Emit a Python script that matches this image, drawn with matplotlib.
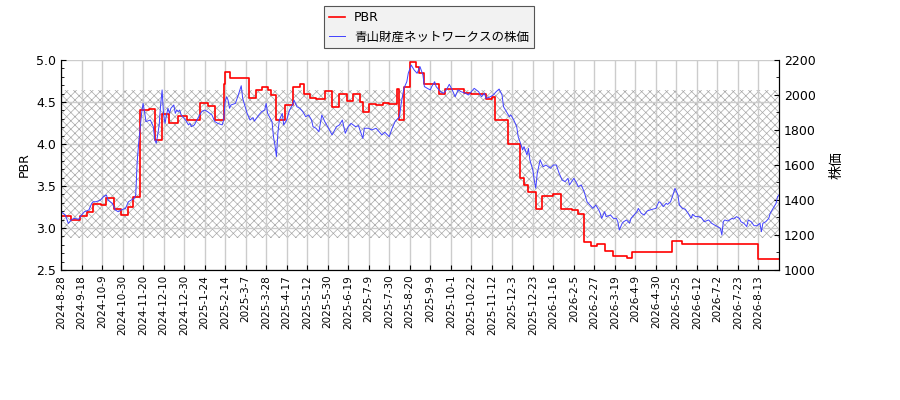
import matplotlib
matplotlib.use('Agg')
import matplotlib.pyplot as plt
from matplotlib.ticker import MultipleLocator

plt.rcParams['font.family'] = ['DejaVu Sans', 'Noto Sans CJK JP']
plt.rcParams['hatch.linewidth'] = 0.5

# trading-day index -> share price (yen)
price_day = [0, 3, 5, 7, 9, 12, 14, 16, 19, 21, 22, 24, 27, 29, 31, 32, 35, 37, 39, 41,
             44, 46, 48, 50, 51, 52, 53, 54, 55, 56, 57, 58, 61, 63, 64, 65, 66, 67, 68, 69,
             70, 71, 72, 73, 74, 75, 77, 78, 79, 80, 81, 82, 85, 87, 88, 89, 91, 94, 96, 98,
             100, 103, 105, 107, 110, 111, 112, 113, 114, 115, 116, 119, 121, 123, 124, 127, 129, 131, 132, 135,
             137, 139, 140, 141, 144, 145, 146, 147, 148, 149, 151, 152, 154, 156, 158, 159, 161, 163, 165, 167,
             169, 171, 172, 174, 176, 178, 180, 182, 185, 188, 190, 192, 194, 196, 198, 201, 203, 206, 207, 210,
             212, 215, 219, 221, 224, 226, 228, 231, 232, 234, 236, 237, 239, 241, 243, 245, 247, 248, 250, 252,
             253, 255, 256, 259, 261, 263, 265, 267, 269, 271, 273, 276, 278, 280, 282, 285, 287, 289, 290, 293,
             295, 297, 299, 301, 302, 304, 306, 307, 309, 311, 312, 314, 315, 316, 318, 319, 320, 322, 323, 324,
             325, 326, 327, 329, 331, 334, 336, 338, 340, 342, 344, 346, 347, 350, 352, 353, 355, 357, 359, 361,
             363, 365, 367, 368, 369, 371, 372, 375, 377, 379, 380, 381, 383, 384, 386, 388, 389, 391, 393, 394,
             396, 398, 400, 402, 404, 406, 408, 409, 411, 413, 414, 416, 418, 419, 420, 421, 422, 424, 426, 428,
             430, 431, 433, 435, 437, 439, 442, 444, 446, 448, 450, 451, 452, 453, 455, 458, 459, 461, 463, 464,
             466, 468, 469, 471, 473, 475, 477, 478, 479, 481, 483, 484, 486, 488, 489, 490]
price = [1333, 1314, 1266, 1286, 1295, 1290, 1314, 1333, 1343, 1381, 1390, 1390, 1400, 1419, 1429, 1400, 1381, 1343, 1333, 1343,
         1352, 1390, 1400, 1410, 1429, 1619, 1724, 1810, 1895, 1952, 1905, 1848, 1857, 1819, 1743, 1724, 1772, 1829, 1943, 2029,
         1886, 1838, 1886, 1924, 1895, 1924, 1943, 1895, 1914, 1905, 1914, 1886, 1857, 1829, 1838, 1819, 1829, 1876, 1905, 1914,
         1905, 1886, 1848, 1838, 1829, 1857, 1962, 1990, 1971, 1924, 1943, 1952, 2000, 2053, 1981, 1895, 1857, 1871, 1851, 1886,
         1905, 1914, 1952, 1895, 1848, 1762, 1714, 1648, 1781, 1857, 1895, 1829, 1857, 1914, 1943, 1971, 1933, 1924, 1905, 1876,
         1886, 1857, 1819, 1810, 1790, 1886, 1848, 1819, 1772, 1819, 1829, 1857, 1781, 1819, 1838, 1819, 1825, 1752, 1810, 1810,
         1800, 1810, 1772, 1787, 1762, 1810, 1848, 1876, 1943, 2038, 2076, 2124, 2171, 2143, 2124, 2162, 2114, 2048, 2038, 2029,
         2048, 2076, 2048, 2019, 2010, 2029, 2061, 2029, 1990, 2029, 2019, 2010, 2000, 2019, 2038, 2019, 1990, 2010, 1981, 1990,
         2000, 2019, 2034, 2000, 1933, 1905, 1876, 1886, 1857, 1819, 1762, 1714, 1686, 1705, 1657, 1695, 1629, 1571, 1514, 1467,
         1552, 1590, 1629, 1590, 1600, 1581, 1600, 1600, 1552, 1514, 1505, 1524, 1486, 1524, 1495, 1476, 1486, 1448, 1390, 1371,
         1352, 1371, 1343, 1324, 1295, 1333, 1305, 1314, 1295, 1295, 1276, 1229, 1267, 1276, 1286, 1267, 1295, 1314, 1333, 1352,
         1324, 1314, 1337, 1343, 1348, 1352, 1390, 1386, 1362, 1381, 1375, 1390, 1438, 1467, 1448, 1429, 1371, 1352, 1348, 1324,
         1295, 1318, 1305, 1305, 1299, 1276, 1286, 1267, 1257, 1248, 1238, 1200, 1276, 1286, 1280, 1295, 1291, 1305, 1295, 1276,
         1267, 1248, 1286, 1276, 1253, 1253, 1267, 1219, 1267, 1276, 1295, 1324, 1352, 1381, 1419, 1429]

# PBR changes (step series): trading-day index where value starts
pbr_day = [0, 7, 13, 18, 22, 27, 31, 36, 41, 46, 49, 54, 60, 64, 69, 74, 80, 86, 95, 100,
           105, 111, 112, 115, 128, 133, 137, 141, 143, 147, 153, 158, 163, 166, 170, 174, 180, 185, 190, 195,
           199, 204, 206, 210, 215, 220, 224, 229, 231, 234, 238, 242, 244, 248, 258, 262, 275, 280, 290, 294,
           296, 305, 313, 316, 319, 324, 328, 336, 341, 349, 353, 357, 362, 366, 371, 377, 386, 390, 417, 424,
           476, 490]
pbr = [3.14, 3.09, 3.14, 3.19, 3.28, 3.27, 3.36, 3.23, 3.16, 3.25, 3.37, 4.40, 4.42, 4.05, 4.36, 4.25, 4.33, 4.29, 4.49, 4.45,
       4.29, 4.72, 4.86, 4.78, 4.55, 4.64, 4.68, 4.64, 4.58, 4.29, 4.46, 4.68, 4.72, 4.59, 4.55, 4.54, 4.63, 4.44, 4.59, 4.51,
       4.59, 4.50, 4.38, 4.48, 4.46, 4.49, 4.48, 4.65, 4.29, 4.68, 4.98, 4.92, 4.84, 4.71, 4.60, 4.65, 4.61, 4.60, 4.53, 4.56,
       4.29, 4.00, 3.59, 3.51, 3.43, 3.23, 3.38, 3.40, 3.23, 3.21, 3.17, 2.83, 2.79, 2.81, 2.73, 2.67, 2.64, 2.71, 2.85, 2.81,
       2.63, 2.63]

band_low = 2.88
band_high = 4.64

tick_labels = ['2024-8-28', '2024-9-18', '2024-10-9', '2024-10-30', '2024-11-20', '2024-12-10', '2024-12-30',
               '2025-1-24', '2025-2-14', '2025-3-7', '2025-3-28', '2025-4-17', '2025-5-12', '2025-5-30',
               '2025-6-19', '2025-7-9', '2025-7-30', '2025-8-20', '2025-9-9', '2025-10-1', '2025-10-22',
               '2025-11-12', '2025-12-3', '2025-12-23', '2026-1-16', '2026-2-5', '2026-2-27', '2026-3-19',
               '2026-4-9', '2026-4-30', '2026-5-25', '2026-6-12', '2026-7-2', '2026-7-23', '2026-8-13']
tick_step = 14
last_day = 490

fig = plt.figure(figsize=(9, 4), dpi=100)
ax = fig.add_axes([61 / 900, 130 / 400, 718 / 900, 210 / 400])
ax2 = ax.twinx()

ax.axhspan(band_low, band_high, fill=False, hatch='xxxx', edgecolor='#a8a8a8', linewidth=0, zorder=0.3)
ax.set_axisbelow(True)
ax.grid(True, color='#cccccc', linewidth=1)

l1, = ax.plot(pbr_day, pbr, color='#ff0000', linewidth=1.2, drawstyle='steps-post', label='PBR')
l2, = ax2.plot(price_day, price, color='#4040ff', linewidth=0.7, label='青山財産ネットワークスの株価')

ax.set_xlim(0, last_day)
ax.set_ylim(2.5, 5.0)
ax2.set_ylim(1000, 2200)
ax.set_xticks([i * tick_step for i in range(len(tick_labels))])
ax.set_xticklabels(tick_labels, rotation=90, fontsize=7.5)
ax.yaxis.set_major_locator(MultipleLocator(0.5))
ax.yaxis.set_minor_locator(MultipleLocator(0.1))
ax2.yaxis.set_major_locator(MultipleLocator(200))
ax2.yaxis.set_minor_locator(MultipleLocator(100))
ax.tick_params(axis='both', which='both', direction='in')
ax2.tick_params(axis='y', which='both', direction='in', labelsize=9)
ax.tick_params(axis='y', labelsize=9)
for a in (ax, ax2):
    a.spines['top'].set_visible(False)

ax.set_ylabel('PBR', fontsize=9)
ax2.set_ylabel('株価', fontsize=10, rotation=90, labelpad=10)

leg = ax2.legend(handles=[l1, l2], loc='lower center', bbox_to_anchor=(0.5125, 1.026),
                 fontsize=9, fancybox=False, edgecolor='#555555', facecolor='#f2f2f2',
                 framealpha=1, borderpad=0.4, handlelength=1.3, handletextpad=0.7)
leg.get_frame().set_linewidth(0.8)

fig.savefig('out.png', dpi=100)
